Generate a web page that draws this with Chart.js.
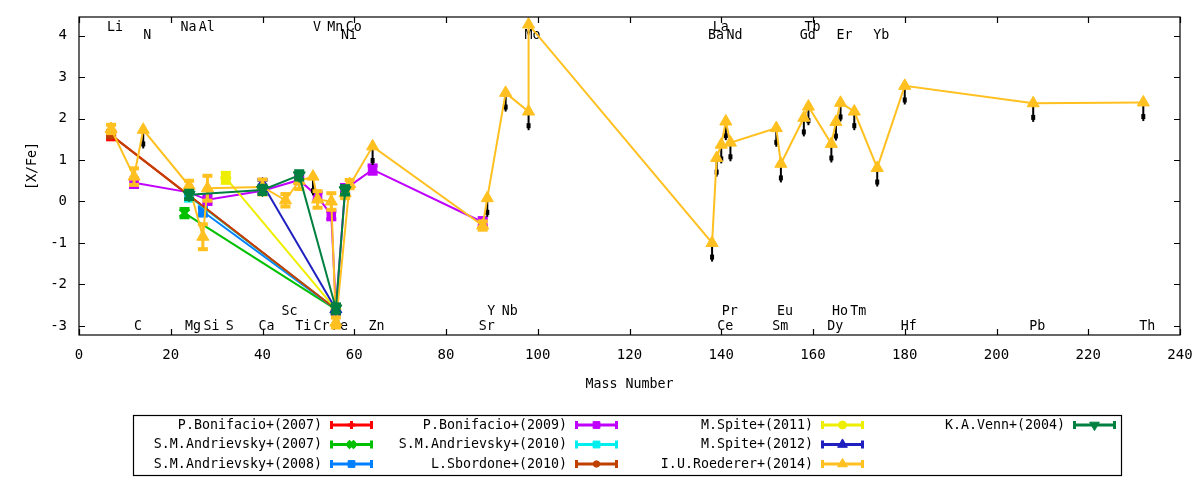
<!DOCTYPE html>
<html>
<head>
<meta charset="utf-8">
<script src="https://cdn.jsdelivr.net/npm/chart.js@4"></script>
<style>
	html, body { margin: 0; padding: 0; background: #fff; }
	#wrap { position: relative; width: 1200px; height: 480px; }
</style>
</head>
<body>
<div id="wrap"><canvas id="abund-chart" width="1200" height="480"></canvas></div>
<script>
/* global Chart */
(function () {
	'use strict';

	var xTicks = [0, 20, 40, 60, 80, 100, 120, 140, 160, 180, 200, 220, 240];
	var yTicks = [-3, -2, -1, 0, 1, 2, 3, 4];

	// Element labels along the top and bottom of the frame.
	var elemNames = ['Li', 'C', 'N', 'Na', 'Mg', 'Al', 'Si', 'S', 'Ca', 'Sc', 'Ti', 'V', 'Cr', 'Mn', 'Fe', 'Co', 'Ni', 'Zn',
		'Sr', 'Y', 'Nb', 'Mo', 'Ba', 'La', 'Ce', 'Pr', 'Nd', 'Sm', 'Eu', 'Gd', 'Tb', 'Dy', 'Ho', 'Er', 'Tm', 'Yb', 'Hf', 'Pb', 'Th'];
	var elemMass = [7, 12, 14, 23, 24, 27, 28, 32, 40, 45, 48, 51, 52, 55, 56, 59, 58, 64,
		88, 89, 93, 98, 138, 139, 140, 141, 142, 152, 153, 158, 159, 164, 165, 166, 169, 174, 180, 208, 232];
	var elemRow = [0, 3, 1, 0, 3, 0, 3, 3, 3, 2, 3, 0, 3, 0, 3, 0, 1, 3,
		3, 2, 2, 1, 1, 0, 3, 2, 1, 3, 2, 1, 0, 3, 2, 1, 2, 1, 3, 3, 3];

	// P.Bonifacio+(2007)
	var bon07Mass = [7, 56];
	var bon07Val = [1.60, -2.60];
	var bon07Err = [0.10, 0.10];
	// S.M.Andrievsky+(2007)
	var and07Mass = [23, 56];
	var and07Val = [-0.28, -2.60];
	var and07Err = [0.10, 0.10];
	// S.M.Andrievsky+(2008)
	var and08Mass = [27, 56];
	var and08Val = [-0.24, -2.60];
	var and08Err = [0.10, 0.10];
	// P.Bonifacio+(2009)
	var bon09Mass = [12, 24, 28, 40, 48, 52, 55, 56, 58, 64, 88];
	var bon09Val = [0.45, 0.22, 0.04, 0.26, 0.52, 0.12, -0.33, -2.60, 0.30, 0.77, -0.50];
	var bon09Err = [0.10, 0.08, 0.10, 0.08, 0.08, 0.10, 0.10, 0.10, 0.10, 0.10, 0.10];
	// S.M.Andrievsky+(2010)
	var and10Mass = [24, 56];
	var and10Val = [0.12, -2.60];
	var and10Err = [0.10, 0.10];
	// L.Sbordone+(2010)
	var sbo10Mass = [7, 56];
	var sbo10Val = [1.60, -2.60];
	var sbo10Err = [0.05, 0.10];
	// M.Spite+(2011)
	var spi11Mass = [32, 56];
	var spi11Val = [0.57, -2.60];
	var spi11Err = [0.12, 0.10];
	// M.Spite+(2012)
	var spi12Mass = [40, 56];
	var spi12Val = [0.42, -2.60];
	var spi12Err = [0.10, 0.10];
	// I.U.Roederer+(2014), lim = upper limit
	var roeMass = [7, 12, 14, 24, 27, 28, 40, 45, 48, 51, 52, 55, 56, 59, 58, 64, 88, 89, 93, 98,
		98, 138, 139, 140, 141, 142, 152, 153, 158, 159, 164, 165, 166, 169, 174, 180, 208, 232];
	var roeVal = [1.75, 0.60, 1.73, 0.38, -0.85, 0.32, 0.35, 0.03, 0.50, 0.60, 0.05, 0.00, -2.92, 0.42, 0.20, 1.33, -0.58, 0.08, 2.62, 2.17,
		4.27, -1.00, 1.05, 1.37, 1.93, 1.42, 1.77, 0.91, 2.02, 2.29, 1.39, 1.92, 2.38, 2.17, 0.81, 2.79, 2.37, 2.39];
	var roeErr = [0.10, 0.20, 0, 0.12, 0.30, 0.30, 0.18, 0.15, 0.20, 0, 0.20, 0.20, 0.12, 0.10, 0.12, 0, 0.10, 0, 0, 0,
		0, 0, 0, 0, 0, 0, 0, 0, 0, 0, 0, 0, 0, 0, 0, 0, 0, 0];
	var roeLim = [0, 0, 1, 0, 0, 0, 0, 0, 0, 1, 0, 0, 0, 0, 0, 1, 0, 1, 1, 1,
		0, 1, 1, 1, 1, 1, 1, 1, 1, 1, 1, 1, 1, 1, 1, 1, 1, 1];
	// K.A.Venn+(2004)
	var vennMass = [24, 40, 48, 56, 58];
	var vennVal = [0.16, 0.28, 0.63, -2.58, 0.27];
	var vennErr = [0.10, 0.10, 0.10, 0.10, 0.10];

	var FONT = '"DejaVu Sans Mono", monospace';

	var series = [
		{ label: 'P.Bonifacio+(2007)', color: '#ff0000', style: 'cross', rot: 0, radius: 5, bw: 3, mass: bon07Mass, val: bon07Val, err: bon07Err },
		{ label: 'S.M.Andrievsky+(2007)', color: '#00c000', style: 'crossRot', rot: 0, radius: 6, bw: 4, mass: and07Mass, val: and07Val, err: and07Err },
		{ label: 'S.M.Andrievsky+(2008)', color: '#0080ff', style: 'rect', rot: 0, radius: 6, bw: 1, mass: and08Mass, val: and08Val, err: and08Err },
		{ label: 'P.Bonifacio+(2009)', color: '#c000ff', style: 'rect', rot: 0, radius: 6, bw: 1, mass: bon09Mass, val: bon09Val, err: bon09Err },
		{ label: 'S.M.Andrievsky+(2010)', color: '#00eeee', style: 'rect', rot: 0, radius: 6, bw: 1, mass: and10Mass, val: and10Val, err: and10Err },
		{ label: 'L.Sbordone+(2010)', color: '#c04000', style: 'circle', rot: 0, radius: 4, bw: 1, mass: sbo10Mass, val: sbo10Val, err: sbo10Err },
		{ label: 'M.Spite+(2011)', color: '#eeee00', style: 'circle', rot: 0, radius: 5, bw: 1, mass: spi11Mass, val: spi11Val, err: spi11Err },
		{ label: 'M.Spite+(2012)', color: '#2020c0', style: 'triangle', rot: 0, radius: 7, bw: 1, mass: spi12Mass, val: spi12Val, err: spi12Err },
		{ label: 'I.U.Roederer+(2014)', color: '#ffc020', style: 'triangle', rot: 0, radius: 7, bw: 1, mass: roeMass, val: roeVal, err: roeErr, lim: roeLim },
		{ label: 'K.A.Venn+(2004)', color: '#008040', style: 'triangle', rot: 180, radius: 7, bw: 1, mass: vennMass, val: vennVal, err: vennErr }
	];

	var datasets = series.map(function (s, i) {
		return {
			label: s.label,
			data: s.mass.map(function (m, j) {
				return { x: m, y: s.val[j] };
			}),
			showLine: true,
			borderColor: s.color,
			backgroundColor: s.color,
			borderWidth: 2,
			tension: 0,
			pointStyle: s.style,
			pointRotation: s.rot,
			pointRadius: s.radius,
			pointBorderWidth: s.bw,
			pointBorderColor: s.color,
			pointBackgroundColor: s.color,
			order: series.length - i,
			clip: false
		};
	});

	function text(ctx, str, x, y, align, sx) {
		ctx.save();
		ctx.translate(x, y);
		ctx.scale(sx || 1, 1);
		ctx.textAlign = align;
		ctx.fillText(str, 0, 0);
		ctx.restore();
	}

	// Drop the label overhang padding so the plot frame sits where the layout padding puts it.
	function fitNoPad(scale, size) {
		if (scale.isHorizontal()) {
			scale.height = size;
		} else {
			scale.width = size;
		}
		scale.paddingLeft = 0;
		scale.paddingRight = 0;
		scale.paddingTop = 0;
		scale.paddingBottom = 0;
	}

	var abundPlugin = {
		id: 'abundPlugin',
		// Error bars and upper-limit arrows go under the dataset marks.
		beforeDatasetDraw: function (chart, args) {
			var s = series[args.index];
			var ctx = chart.ctx;
			var xs = chart.scales.x;
			var ys = chart.scales.y;
			ctx.save();
			s.mass.forEach(function (m, j) {
				var x = xs.getPixelForValue(m);
				var e = s.err[j];
				if (e > 0) {
					var y1 = ys.getPixelForValue(s.val[j] + e);
					var y2 = ys.getPixelForValue(s.val[j] - e);
					ctx.strokeStyle = s.color;
					ctx.lineWidth = 3;
					ctx.beginPath();
					ctx.moveTo(x, y1);
					ctx.lineTo(x, y2);
					ctx.stroke();
					ctx.fillStyle = s.color;
					ctx.fillRect(x - 5, y1 - 2, 10, 4);
					ctx.fillRect(x - 5, y2 - 2, 10, 4);
				}
				if (s.lim && s.lim[j]) {
					var ya = ys.getPixelForValue(s.val[j]);
					var yb = ys.getPixelForValue(s.val[j] - 0.45);
					ctx.strokeStyle = '#000';
					ctx.fillStyle = '#000';
					ctx.lineWidth = 2;
					ctx.beginPath();
					ctx.moveTo(x, ya);
					ctx.lineTo(x, yb);
					ctx.stroke();
					ctx.fillRect(x - 2, yb - 7, 4, 5);
				}
			});
			ctx.restore();
		},
		beforeDatasetsDraw: function (chart) {
			var ctx = chart.ctx;
			var xs = chart.scales.x;
			var ys = chart.scales.y;
			var rowVals = [4.21, 4.0, -2.66, -3.0];
			ctx.save();
			ctx.fillStyle = '#000';
			ctx.font = '14px ' + FONT;
			ctx.textBaseline = 'middle';
			elemNames.forEach(function (name, i) {
				text(ctx, name, xs.getPixelForValue(elemMass[i]) + 4, ys.getPixelForValue(rowVals[elemRow[i]]), 'center', 0.95);
			});
			ctx.restore();
		},
		afterDraw: function (chart) {
			var ctx = chart.ctx;
			var a = chart.chartArea;
			var xs = chart.scales.x;
			var ys = chart.scales.y;
			ctx.save();

			// Frame with inward ticks on all four sides.
			ctx.strokeStyle = '#000';
			ctx.lineWidth = 1.2;
			ctx.strokeRect(a.left, a.top, a.right - a.left, a.bottom - a.top);
			ctx.beginPath();
			xTicks.forEach(function (v) {
				var x = Math.round(xs.getPixelForValue(v)) + 0.5;
				ctx.moveTo(x, a.bottom);
				ctx.lineTo(x, a.bottom - 6);
				ctx.moveTo(x, a.top);
				ctx.lineTo(x, a.top + 6);
			});
			yTicks.forEach(function (v) {
				var y = Math.round(ys.getPixelForValue(v)) + 0.5;
				ctx.moveTo(a.left, y);
				ctx.lineTo(a.left + 6, y);
				ctx.moveTo(a.right, y);
				ctx.lineTo(a.right - 6, y);
			});
			ctx.stroke();

			// Axis titles.
			ctx.fillStyle = '#000';
			ctx.font = '14px ' + FONT;
			ctx.textBaseline = 'middle';
			text(ctx, 'Mass Number', (a.left + a.right) / 2, 384, 'center', 0.95);
			ctx.save();
			ctx.translate(32, 166);
			ctx.rotate(-Math.PI / 2);
			text(ctx, '[X/Fe]', 0, 0, 'center', 0.95);
			ctx.restore();

			// Legend box, four columns of three.
			ctx.lineWidth = 1.2;
			ctx.strokeRect(133.5, 415.5, 988, 60);
			var colRight = [322, 567, 813, 1065];
			var rowY = [425, 444.5, 464];
			series.forEach(function (s, i) {
				var col = Math.floor(i / 3);
				var row = i % 3;
				var tx = colRight[col];
				var y = rowY[row];
				ctx.fillStyle = '#000';
				text(ctx, s.label, tx, y, 'right', 0.95);
				var x0 = tx + 8;
				var x1 = tx + 51;
				ctx.strokeStyle = s.color;
				ctx.fillStyle = s.color;
				ctx.lineWidth = 3;
				ctx.beginPath();
				ctx.moveTo(x0, y);
				ctx.lineTo(x1, y);
				ctx.stroke();
				ctx.fillRect(x0, y - 4, 3, 8);
				ctx.fillRect(x1 - 3, y - 4, 3, 8);
				ctx.lineWidth = s.bw;
				Chart.helpers.drawPoint(ctx, {
					pointStyle: s.style,
					rotation: s.rot,
					radius: s.radius * 0.8,
					borderWidth: s.bw
				}, (x0 + x1) / 2, y);
			});
			ctx.restore();
		}
	};

	var tickFont = { family: FONT, size: 14 };

	new Chart(document.getElementById('abund-chart').getContext('2d'), {
		type: 'scatter',
		data: { datasets: datasets },
		options: {
			responsive: false,
			animation: false,
			events: [],
			layout: { autoPadding: false, padding: { left: 0, right: 20, top: 17, bottom: 0 } },
			plugins: {
				legend: { display: false },
				tooltip: { enabled: false }
			},
			scales: {
				x: {
					type: 'linear',
					min: 0,
					max: 240,
					grid: { display: false, drawTicks: false },
					border: { display: false },
					ticks: { color: '#000', font: tickFont, padding: 12, maxRotation: 0, autoSkip: false, includeBounds: false },
					afterBuildTicks: function (scale) {
						scale.ticks = xTicks.map(function (v) { return { value: v }; });
					},
					afterFit: function (scale) {
						fitNoPad(scale, 145);
					}
				},
				y: {
					type: 'linear',
					min: -3.22,
					max: 4.45,
					grid: { display: false, drawTicks: false },
					border: { display: false },
					ticks: { color: '#000', font: tickFont, padding: 12, autoSkip: false, includeBounds: false },
					afterBuildTicks: function (scale) {
						scale.ticks = yTicks.map(function (v) { return { value: v }; });
					},
					afterFit: function (scale) {
						fitNoPad(scale, 79);
					}
				}
			}
		},
		plugins: [abundPlugin]
	});
})();
</script>
</body>
</html>
